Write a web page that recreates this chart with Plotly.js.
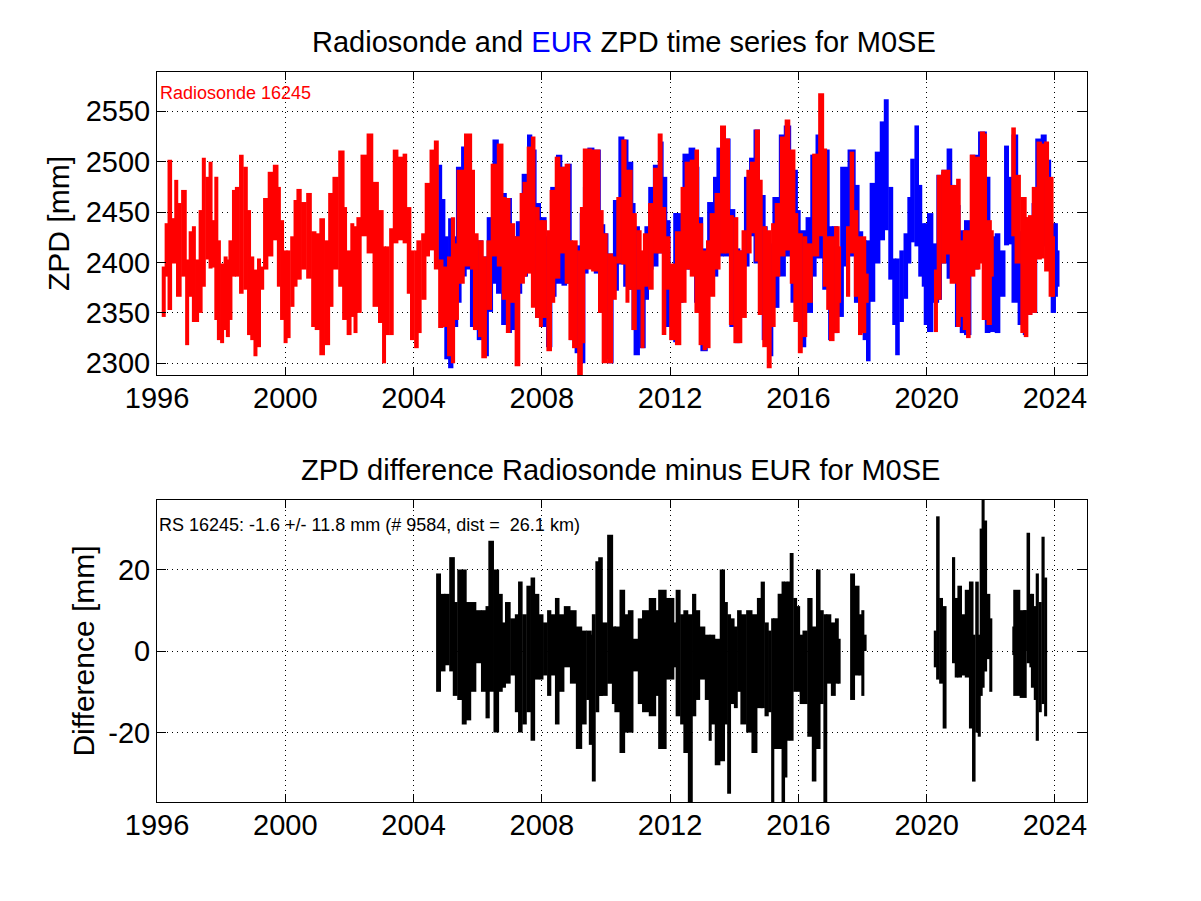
<!DOCTYPE html>
<html>
<head>
<meta charset="utf-8">
<script src="https://cdn.plot.ly/plotly-3.0.1.min.js"></script>
<style>html,body{margin:0;padding:0;background:#fff}</style>
</head>
<body>
<div id="chart" style="width:1201px;height:901px"></div>
<script>
var xTicks = [1996,2000,2004,2008,2012,2016,2020,2024];
var zpdTicks = [2300,2350,2400,2450,2500,2550];
var diffTicks = [-20,0,20];

var radiosondeYears = [1996.21,1996.30,1996.40,1996.53,1996.60,1996.68,1996.84,1996.94,1997.05,1997.15,1997.25,1997.36,1997.46,1997.57,1997.67,1997.77,1997.85,1997.93,1998.03,1998.14,1998.21,1998.29,1998.40,1998.50,1998.63,1998.76,1998.87,1998.97,1999.07,1999.18,1999.28,1999.39,1999.54,1999.70,1999.80,1999.90,2000.01,2000.10,2000.22,2000.32,2000.43,2000.58,2000.74,2000.89,2001.00,2001.15,2001.31,2001.42,2001.57,2001.75,2001.85,2001.99,2002.09,2002.19,2002.30,2002.45,2002.64,2002.82,2002.98,2003.08,2003.18,2003.31,2003.44,2003.60,2003.73,2003.86,2003.96,2004.09,2004.17,2004.32,2004.43,2004.58,2004.71,2004.85,2005.00,2005.11,2005.23,2005.35,2005.47,2005.70,2005.84,2005.94,2006.10,2006.20,2006.36,2006.51,2006.70,2006.82,2006.95,2007.08,2007.24,2007.39,2007.47,2007.60,2007.73,2007.86,2007.97,2008.07,2008.23,2008.33,2008.49,2008.64,2008.80,2008.90,2009.03,2009.19,2009.27,2009.42,2009.68,2009.84,2009.96,2010.13,2010.25,2010.41,2010.56,2010.67,2010.77,2010.88,2011.03,2011.14,2011.24,2011.40,2011.55,2011.69,2011.81,2011.94,2012.07,2012.25,2012.42,2012.54,2012.70,2012.83,2012.96,2013.08,2013.19,2013.32,2013.48,2013.65,2013.79,2013.91,2014.05,2014.18,2014.31,2014.46,2014.57,2014.72,2014.81,2014.95,2015.09,2015.22,2015.35,2015.51,2015.66,2015.82,2015.92,2016.06,2016.20,2016.34,2016.54,2016.71,2016.83,2016.93,2017.04,2017.20,2017.27,2017.55,2017.67,2017.80,2017.93,2018.05,2018.13,2020.29,2020.39,2020.53,2020.60,2020.86,2020.99,2021.09,2021.19,2021.30,2021.43,2021.59,2021.74,2021.80,2021.95,2022.03,2022.71,2022.84,2023.02,2023.10,2023.23,2023.36,2023.51,2023.62,2023.74,2023.88,2023.94];
var radiosondeHigh = [2396,2439,2502,2444,2482,2459,2472,2403,2431,2436,2403,2452,2504,2485,2500,2442,2485,2422,2399,2406,2403,2422,2472,2475,2507,2495,2452,2406,2393,2404,2396,2464,2490,2497,2475,2442,2412,2412,2426,2462,2473,2460,2469,2431,2429,2444,2422,2469,2485,2511,2455,2412,2439,2436,2445,2507,2528,2480,2452,2416,2416,2434,2512,2505,2508,2455,2412,2412,2422,2429,2479,2512,2521,2403,2396,2406,2445,2419,2492,2528,2492,2429,2422,2406,2422,2498,2518,2465,2464,2439,2426,2469,2480,2515,2525,2455,2442,2442,2432,2472,2505,2495,2498,2422,2422,2412,2455,2513,2512,2452,2429,2409,2406,2465,2522,2492,2492,2449,2432,2412,2429,2459,2494,2528,2455,2426,2399,2431,2475,2500,2502,2512,2439,2412,2422,2449,2469,2536,2523,2447,2445,2412,2432,2492,2500,2532,2482,2436,2432,2439,2459,2525,2542,2512,2449,2429,2426,2419,2508,2568,2513,2426,2426,2436,2416,2436,2510,2452,2426,2426,2389,2393,2487,2490,2492,2477,2483,2422,2432,2432,2507,2505,2530,2528,2442,2432,2534,2487,2465,2445,2447,2475,2520,2518,2520,2485,2426];
var radiosondeLow = [2346,2386,2353,2399,2406,2366,2386,2318,2366,2341,2341,2350,2376,2403,2394,2395,2343,2323,2320,2333,2326,2343,2386,2386,2369,2373,2328,2323,2307,2316,2373,2393,2406,2422,2376,2343,2320,2325,2356,2376,2383,2393,2384,2336,2333,2308,2318,2356,2393,2376,2343,2328,2346,2330,2350,2426,2409,2356,2340,2300,2328,2328,2419,2422,2419,2369,2323,2315,2330,2363,2406,2412,2393,2335,2336,2307,2300,2343,2379,2396,2393,2333,2326,2305,2353,2406,2396,2363,2330,2360,2297,2379,2386,2389,2355,2345,2336,2345,2312,2360,2384,2409,2379,2323,2315,2288,2320,2393,2391,2350,2300,2300,2363,2399,2398,2360,2373,2333,2373,2315,2376,2373,2409,2409,2328,2373,2323,2318,2360,2393,2386,2350,2318,2313,2315,2366,2393,2409,2409,2338,2320,2320,2345,2409,2429,2401,2348,2316,2295,2336,2386,2406,2412,2379,2341,2310,2326,2360,2406,2426,2376,2353,2322,2330,2360,2366,2409,2366,2328,2330,2360,2331,2363,2399,2408,2379,2336,2346,2333,2325,2386,2393,2399,2343,2338,2386,2426,2399,2330,2326,2348,2350,2403,2404,2391,2366,2366];

var eurYears = [2004.83,2004.93,2005.03,2005.16,2005.31,2005.41,2005.57,2005.70,2005.83,2005.94,2006.07,2006.25,2006.38,2006.56,2006.66,2006.82,2006.98,2007.13,2007.29,2007.47,2007.62,2007.76,2007.88,2008.05,2008.23,2008.36,2008.54,2008.70,2008.85,2008.95,2009.11,2009.27,2009.37,2009.53,2009.73,2009.89,2009.99,2010.15,2010.31,2010.48,2010.62,2010.77,2010.86,2010.96,2011.14,2011.27,2011.40,2011.55,2011.71,2011.84,2011.94,2012.07,2012.18,2012.33,2012.49,2012.68,2012.83,2012.96,2013.06,2013.27,2013.42,2013.56,2013.77,2013.94,2014.10,2014.26,2014.39,2014.55,2014.70,2014.88,2014.95,2015.12,2015.30,2015.50,2015.66,2015.87,2016.00,2016.13,2016.34,2016.47,2016.65,2016.86,2017.01,2017.14,2017.32,2017.43,2017.66,2017.82,2017.95,2018.07,2018.18,2018.31,2018.47,2018.62,2018.74,2018.88,2018.99,2019.09,2019.22,2019.35,2019.46,2019.56,2019.69,2019.80,2019.91,2019.98,2020.11,2020.29,2020.39,2020.55,2020.71,2020.81,2020.97,2021.12,2021.28,2021.49,2021.74,2021.90,2022.06,2022.21,2022.37,2022.49,2022.63,2022.75,2022.94,2023.07,2023.20,2023.36,2023.48,2023.65,2023.80,2023.95,2024.03,2024.08];
var eurHigh = [2497,2463,2426,2444,2426,2495,2515,2525,2488,2426,2422,2406,2445,2522,2492,2469,2464,2426,2441,2488,2527,2512,2459,2445,2426,2475,2507,2495,2498,2419,2417,2449,2475,2514,2512,2438,2429,2409,2462,2525,2522,2500,2459,2436,2403,2436,2475,2497,2520,2485,2442,2396,2449,2449,2508,2514,2495,2445,2414,2460,2485,2514,2523,2453,2414,2412,2485,2504,2532,2467,2436,2419,2465,2527,2536,2492,2452,2432,2445,2507,2527,2512,2436,2436,2414,2495,2512,2477,2431,2422,2422,2479,2510,2540,2562,2475,2404,2404,2412,2429,2465,2503,2536,2477,2439,2439,2449,2419,2487,2492,2513,2477,2457,2432,2442,2507,2530,2485,2426,2429,2412,2516,2485,2527,2431,2445,2436,2459,2523,2527,2502,2439,2439,2412];
var eurLow = [2393,2393,2304,2295,2336,2360,2386,2393,2336,2333,2323,2307,2351,2379,2369,2338,2330,2333,2369,2386,2393,2379,2345,2336,2316,2366,2379,2377,2379,2323,2310,2300,2389,2396,2389,2350,2304,2300,2372,2398,2376,2373,2333,2308,2315,2363,2393,2396,2409,2393,2336,2323,2321,2360,2393,2393,2360,2350,2312,2368,2386,2406,2406,2336,2320,2350,2396,2426,2399,2353,2323,2307,2355,2386,2406,2360,2355,2316,2350,2386,2404,2373,2323,2330,2346,2396,2406,2360,2340,2323,2302,2361,2399,2422,2432,2383,2338,2308,2341,2364,2399,2420,2416,2386,2376,2338,2331,2360,2363,2399,2384,2389,2336,2330,2328,2393,2403,2330,2331,2330,2366,2417,2418,2360,2338,2328,2348,2350,2406,2416,2393,2350,2366,2376];

var diffYears = [2004.78,2004.92,2005.04,2005.20,2005.30,2005.44,2005.58,2005.71,2005.87,2006.03,2006.19,2006.31,2006.42,2006.58,2006.71,2006.81,2006.94,2007.10,2007.23,2007.33,2007.46,2007.59,2007.72,2007.85,2007.98,2008.11,2008.23,2008.35,2008.48,2008.60,2008.79,2008.98,2009.16,2009.31,2009.47,2009.52,2009.62,2009.73,2009.83,2009.96,2010.13,2010.25,2010.35,2010.51,2010.61,2010.77,2010.93,2011.08,2011.24,2011.45,2011.66,2011.76,2012.00,2012.13,2012.25,2012.39,2012.49,2012.63,2012.75,2012.85,2013.01,2013.17,2013.25,2013.32,2013.48,2013.63,2013.74,2013.84,2013.95,2014.05,2014.16,2014.29,2014.47,2014.63,2014.80,2014.89,2015.01,2015.11,2015.20,2015.29,2015.43,2015.53,2015.61,2015.69,2015.79,2015.90,2016.00,2016.10,2016.21,2016.36,2016.49,2016.62,2016.73,2016.84,2016.95,2017.09,2017.20,2017.27,2017.69,2017.83,2017.94,2018.01,2018.08,2020.27,2020.35,2020.45,2020.56,2020.84,2020.93,2021.03,2021.16,2021.26,2021.39,2021.47,2021.57,2021.64,2021.70,2021.76,2021.83,2021.93,2022.00,2022.72,2022.81,2023.01,2023.07,2023.17,2023.25,2023.30,2023.39,2023.45,2023.54,2023.63,2023.71];
var diffHigh = [19,14,14,23,12,20,20,12,12,10,10,11,27,20,14,7,12,8,9,17,9,16,18,14,9,7,10,9,13,9,11,10,6,5,5,4,9,22,23,7,28.5,6,6,15,9,10,3,8,10,13,10,15,13,7,15,9,10,9,14,10,6,4,3,4,3,20,12,9,8,6,10,9,10,9,13,17,7,5,8,8,14,17,17,17,24,13,11,4,5,13,6,20,10,9,9,7,8,3,19,16,9,10,4,5,33,13,11,23,13,16,9,15,17,4,17,4,30,37,32,14,8,6,15,10,10,29,14,14,11,19,12,28,18];
var diffLow = [-10,-5,-3.5,-5,-11,-12,-18,-17,-10,-3,-10,-16.5,-10,-20,-10,-9,-8,-6,-15,-20,-18,-15,-22,-7,-7,-6,-11,-6,-18,-10,-4,-8,-24,-18,-12,-23,-32,-15,-11,-11,-8,-13,-15,-25,-20,-20,-5,-13,-15,-16,-11,-24,-7,-4,-16,-18,-25,-37,-16,-12,-7,-12,-22,-18,-28,-27,-18,-35,-13,-14,-10,-18,-20,-25,-14,-14,-16,-15,-37,-24,-24,-37,-31,-22,-22,-10,-10,-13,-13,-21,-32,-24,-13,-37,-8,-11,-8,-8,-12,-6,-6,-11,0,-4,-7,-8,-19,-3,-6.5,-6.5,-6,-6.5,-19,-32,-20,-21,-11,-9,-5,-2,-10,-1,-11,-11.5,0,-3,-4,-9,-12,-22,-15,-13,-16];

// Each sample's high-low range is a floating column, wide enough to butt against its neighbours unless a data gap follows.
function columns(years, high, low, minWidth, color, xa, ya) {
  var widths = years.map(function(x, i) {
    var prev = i > 0 ? x - years[i-1] : 0, next = i < years.length-1 ? years[i+1] - x : 0;
    var g = Math.max(prev > 0.27 ? 0 : prev, next > 0.27 ? 0 : next);
    return Math.max(minWidth, g * 1.1);
  });
  return {type:'bar', x:years, base:low, y:high.map(function(h, i){ return h - low[i]; }), width:widths,
    marker:{color:color, line:{width:0}}, xaxis:xa, yaxis:ya, hoverinfo:'skip'};
}

var W = 1201, H = 901, FONT = '"Liberation Sans", Arial, sans-serif';
var data = [
  columns(eurYears, eurHigh, eurLow, 0.125, '#0000ff', 'x', 'y'),
  columns(radiosondeYears, radiosondeHigh, radiosondeLow, 0.125, '#ff0000', 'x', 'y'),
  columns(diffYears, diffHigh, diffLow, 0.095, '#000000', 'x2', 'y2')
];
function xAxis(anchor) {
  return {domain:[157/W,1087/W], range:[1996,2025], anchor:anchor, tickmode:'array', tickvals:xTicks, ticktext:xTicks.map(String),
    ticks:'inside', ticklen:8, tickwidth:1, tickcolor:'#000', showline:true, linecolor:'#000', linewidth:1, mirror:'allticks',
    showgrid:true, gridcolor:'#000', gridwidth:1, griddash:'1px,4px', zeroline:false, ticklabelstandoff:-3, tickfont:{size:29, color:'#000', family:FONT}};
}
function yAxis(anchor, dom, rng, ticks, title, standoff) {
  return {domain:dom, range:rng, anchor:anchor, tickmode:'array', tickvals:ticks, ticktext:ticks.map(function(v){return String(v);}),
    ticks:'inside', ticklen:9, tickwidth:1, tickcolor:'#000', showline:true, linecolor:'#000', linewidth:1, mirror:'allticks',
    showgrid:true, gridcolor:'#000', gridwidth:1, griddash:'1px,4px', zeroline:false, tickfont:{size:29, color:'#000', family:FONT},
    title:{text:title, font:{size:30, color:'#000', family:FONT}, standoff:standoff}};
}
var layout = {
  width:W, height:H, margin:{l:0,r:0,t:0,b:0}, paper_bgcolor:'#fff', plot_bgcolor:'#fff', showlegend:false, barmode:'overlay',
  xaxis: xAxis('y'),
  yaxis: yAxis('x', [1-375/H, 1-72/H], [2288.4,2589], zpdTicks, 'ZPD [mm]', 7),
  xaxis2: xAxis('y2'),
  yaxis2: yAxis('x2', [1-802/H, 1-500/H], [-37,37], diffTicks, 'Difference [mm]', 4),
  annotations:[
    {xref:'paper', yref:'paper', x:624/W, y:1-42/H, xanchor:'center', yanchor:'middle', showarrow:false,
     text:'Radiosonde and <span style="color:#0000ff">EUR</span> ZPD time series for M0SE', font:{size:29, color:'#000', family:FONT}},
    {xref:'paper', yref:'paper', x:620/W, y:1-470/H, xanchor:'center', yanchor:'middle', showarrow:false,
     text:'ZPD difference Radiosonde minus EUR for M0SE', font:{size:29, color:'#000', family:FONT}},
    {xref:'paper', yref:'paper', x:158/W, y:1-93/H, xanchor:'left', yanchor:'middle', showarrow:false,
     text:'Radiosonde 16245', font:{size:18, color:'#ff0000', family:FONT}},
    {xref:'paper', yref:'paper', x:157/W, y:1-525/H, xanchor:'left', yanchor:'middle', showarrow:false,
     text:'RS 16245: -1.6 +/- 11.8 mm (# 9584, dist = &nbsp;26.1 km)', font:{size:18, color:'#000', family:FONT}}
  ]
};
Plotly.newPlot('chart', data, layout, {staticPlot:true, displayModeBar:false});
</script>
</body>
</html>
